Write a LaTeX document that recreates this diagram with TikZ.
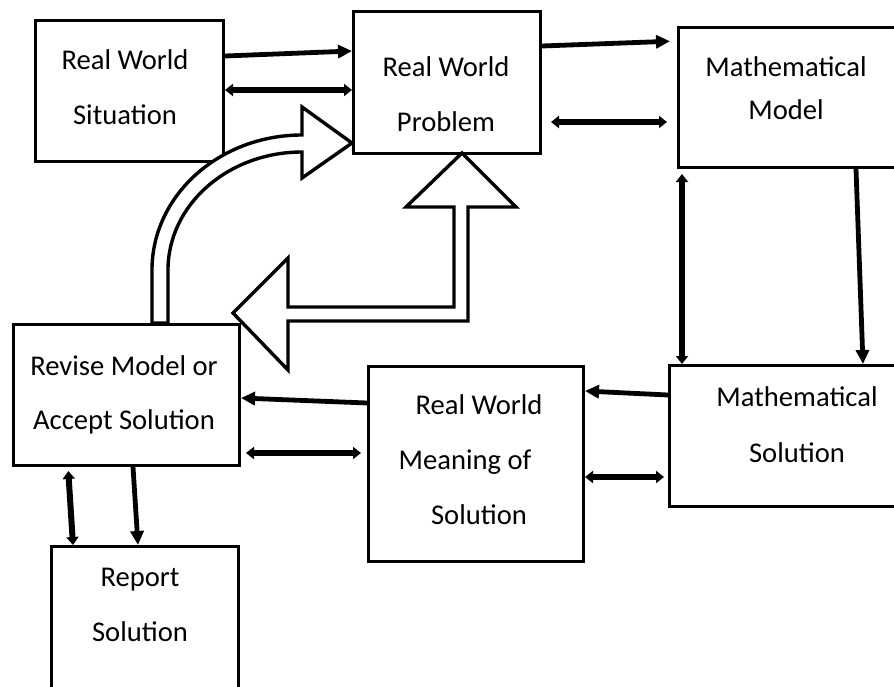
\documentclass[tikz,border=0pt]{standalone}
\usepackage{fontspec}
\setmainfont{Carlito}
\usetikzlibrary{arrows.meta}

\begin{document}
\begin{tikzpicture}[x=0.5pt,y=-0.5pt,>={Triangle[length=7pt,width=6.5pt]},
                    box/.style={draw,line width=1.5pt,anchor=north west,inner sep=0pt},
                    txt/.style={align=center,font=\fontsize{14.3}{27.5}\selectfont},
                    one/.style={->,line width=2.4pt},
                    both/.style={{Triangle[length=4pt,width=6pt]}-{Triangle[length=4pt,width=6pt]},
                                 line width=3pt},
                    hollow/.style={draw,fill=white,line width=1.7pt,line join=miter}]
  \clip (0,0) rectangle (894,686);

  \node[box,minimum width=94pt,minimum height=70.5pt]    (sit)     at (34,19)   {};
  \node[box,minimum width=93.5pt,minimum height=71pt]    (prob)    at (352,10)  {};
  \node[box,minimum width=121.5pt,minimum height=70pt]   (model)   at (677,26)  {};
  \node[box,minimum width=113pt,minimum height=70.5pt]   (revise)  at (12,323)  {};
  \node[box,minimum width=107.5pt,minimum height=97.5pt] (meaning) at (367,365) {};
  \node[box,minimum width=126pt,minimum height=70.5pt]   (msol)    at (668,364) {};
  \node[box,minimum width=93.5pt,minimum height=87.5pt]  (report)  at (50,545)  {};

  \node[txt] (sit-txt)     at (125,87.5) {Real World\\Situation};
  \node[txt] (prob-txt)    at (446,94.5) {Real World\\Problem};
  \node[txt] (model-txt)   at (786,88.5) {Mathematical\\[-6pt]Model};
  \node[txt] (revise-txt)  at (124,395)  {Revise Model or\\[-0.5pt]Accept Solution};
  \node[txt] (meaning-txt) at (479,460)  {Real World\\\hspace*{-14pt}Meaning of\\Solution};
  \node[txt] (msol-txt)    at (797,425)  {Mathematical\\[0.5pt]Solution};
  \node[txt] (report-txt)  at (140,604.5) {Report\\Solution};

  % big hollow arrows
  \path[hollow] (152,323) -- (152,270) .. controls (152,195.4) and (219.2,135) .. (302,135)
                -- (302,107) -- (352,143) -- (302,178) -- (302,152)
                .. controls (228,152) and (168,204.8) .. (168,270) -- (168,323) -- cycle;
  \path[hollow] (462,153) -- (516,207) -- (468,207) -- (468,321) -- (288,321) -- (288,370)
                -- (233,313) -- (288,258) -- (288,307) -- (454,307) -- (454,207)
                -- (406,207) -- cycle;

  \draw[one]  (sit.east |- 0,56) -- (prob.west |- 0,51);
  \draw[both] (sit.east |- 0,90) -- (prob.west |- 0,90);
  \draw[one,shorten >=3.5pt]  (prob.east |- 0,46) -- (model.west |- 0,41);
  \draw[both,shorten <=4.5pt,shorten >=5pt] (prob.east |- 0,122) -- (model.west |- 0,122);
  \draw[both,shorten <=2.5pt] (model.south -| 682,0) -- (msol.north -| 682,0);
  \draw[one]  (model.south -| 856,0) -- (msol.north -| 863,0);
  \draw[one]  (msol.west |- 0,395) -- (meaning.east |- 0,391);
  \draw[both,shorten >=2pt] (meaning.east |- 0,477) -- (msol.west |- 0,477);
  \draw[one]  (meaning.west |- 0,403) -- (revise.east |- 0,398);
  \draw[both,shorten <=2.5pt,shorten >=3pt] (revise.east |- 0,453) -- (meaning.west |- 0,453);
  \draw[both,shorten <=2pt] (revise.south -| 68,0) -- (report.north -| 73,0);
  \draw[one]  (revise.south -| 133,0) -- (report.north -| 138,0);

\end{tikzpicture}
\end{document}
